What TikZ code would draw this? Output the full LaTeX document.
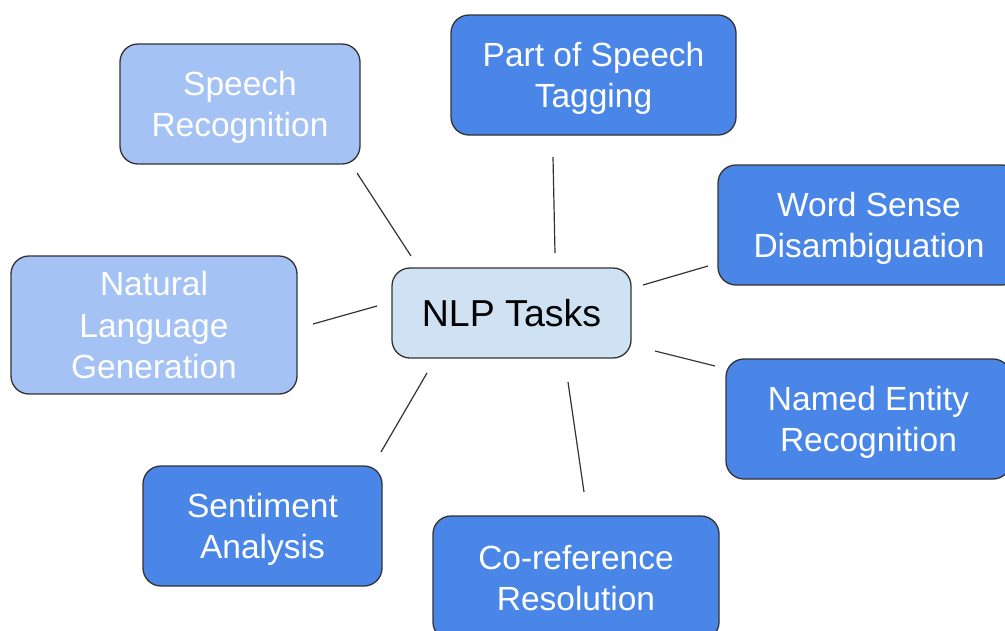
\documentclass[tikz,border=0pt]{standalone}
\usepackage{fontspec}
\setmainfont{Liberation Sans}
\definecolor{taskdark}{HTML}{4A86E8}
\definecolor{tasklight}{HTML}{A4C2F4}
\definecolor{hubfill}{HTML}{CFE2F3}
\definecolor{edgegrey}{HTML}{333333}
\tikzset{
  taskbox/.style={draw=edgegrey, line width=1.3pt, rounded corners=18pt,
    text=white, align=center, inner sep=0pt, text depth=0pt,
    font=\fontsize{33.5}{41.5}\selectfont},
  darkbox/.style={taskbox, fill=taskdark},
  lightbox/.style={taskbox, fill=tasklight},
  hubbox/.style={taskbox, fill=hubfill, text=black,
    font=\fontsize{37.5}{44}\selectfont},
  link/.style={draw=edgegrey, line width=1.2pt}
}
\begin{document}
\begin{tikzpicture}[x=1pt,y=-1pt]
\useasboundingbox (0,0) rectangle (1005,630);
\clip (0,0) rectangle (1005,630);
\fill[white] (0,0) rectangle (1005,630);

% central hub
\node[hubbox, minimum width=239pt, minimum height=90pt] (hub) at (511.5,313) {NLP Tasks};

% surrounding tasks
\node[lightbox, minimum width=240pt, minimum height=120pt] (speech) at (240,104) {Speech\\Recognition};
\node[darkbox, minimum width=285pt, minimum height=120pt] (pos) at (593.5,75) {Part of Speech\\Tagging};
\node[darkbox, minimum width=302pt, minimum height=120pt] (wsd) at (869,225) {Word Sense\\Disambiguation};
\node[lightbox, minimum width=286pt, minimum height=138pt] (nlg) at (154,325) {Natural\\Language\\Generation};
\node[darkbox, minimum width=285pt, minimum height=120pt] (ner) at (868.5,419) {Named Entity\\Recognition};
\node[darkbox, minimum width=239pt, minimum height=120pt] (senti) at (262.5,526) {Sentiment\\Analysis};
\node[darkbox, minimum width=286pt, minimum height=124pt] (coref) at (576,578) {Co-reference\\Resolution};

% spoke end points (the spokes stop short of the boxes)
\coordinate (speechA) at (357,173);  \coordinate (speechB) at (411,256);
\coordinate (posA)    at (553,157);  \coordinate (posB)    at (555,253);
\coordinate (wsdA)    at (708,266);  \coordinate (wsdB)    at (643,285);
\coordinate (nlgA)    at (313,324);  \coordinate (nlgB)    at (377,306);
\coordinate (nerA)    at (715,366);  \coordinate (nerB)    at (655,351);
\coordinate (sentiA)  at (381,452);  \coordinate (sentiB)  at (427,373);
\coordinate (corefA)  at (584,492);  \coordinate (corefB)  at (568,382);

\draw[link] (speechA) -- (speechB);
\draw[link] (posA) -- (posB);
\draw[link] (wsdA) -- (wsdB);
\draw[link] (nlgA) -- (nlgB);
\draw[link] (nerA) -- (nerB);
\draw[link] (sentiA) -- (sentiB);
\draw[link] (corefA) -- (corefB);
\end{tikzpicture}
\end{document}
